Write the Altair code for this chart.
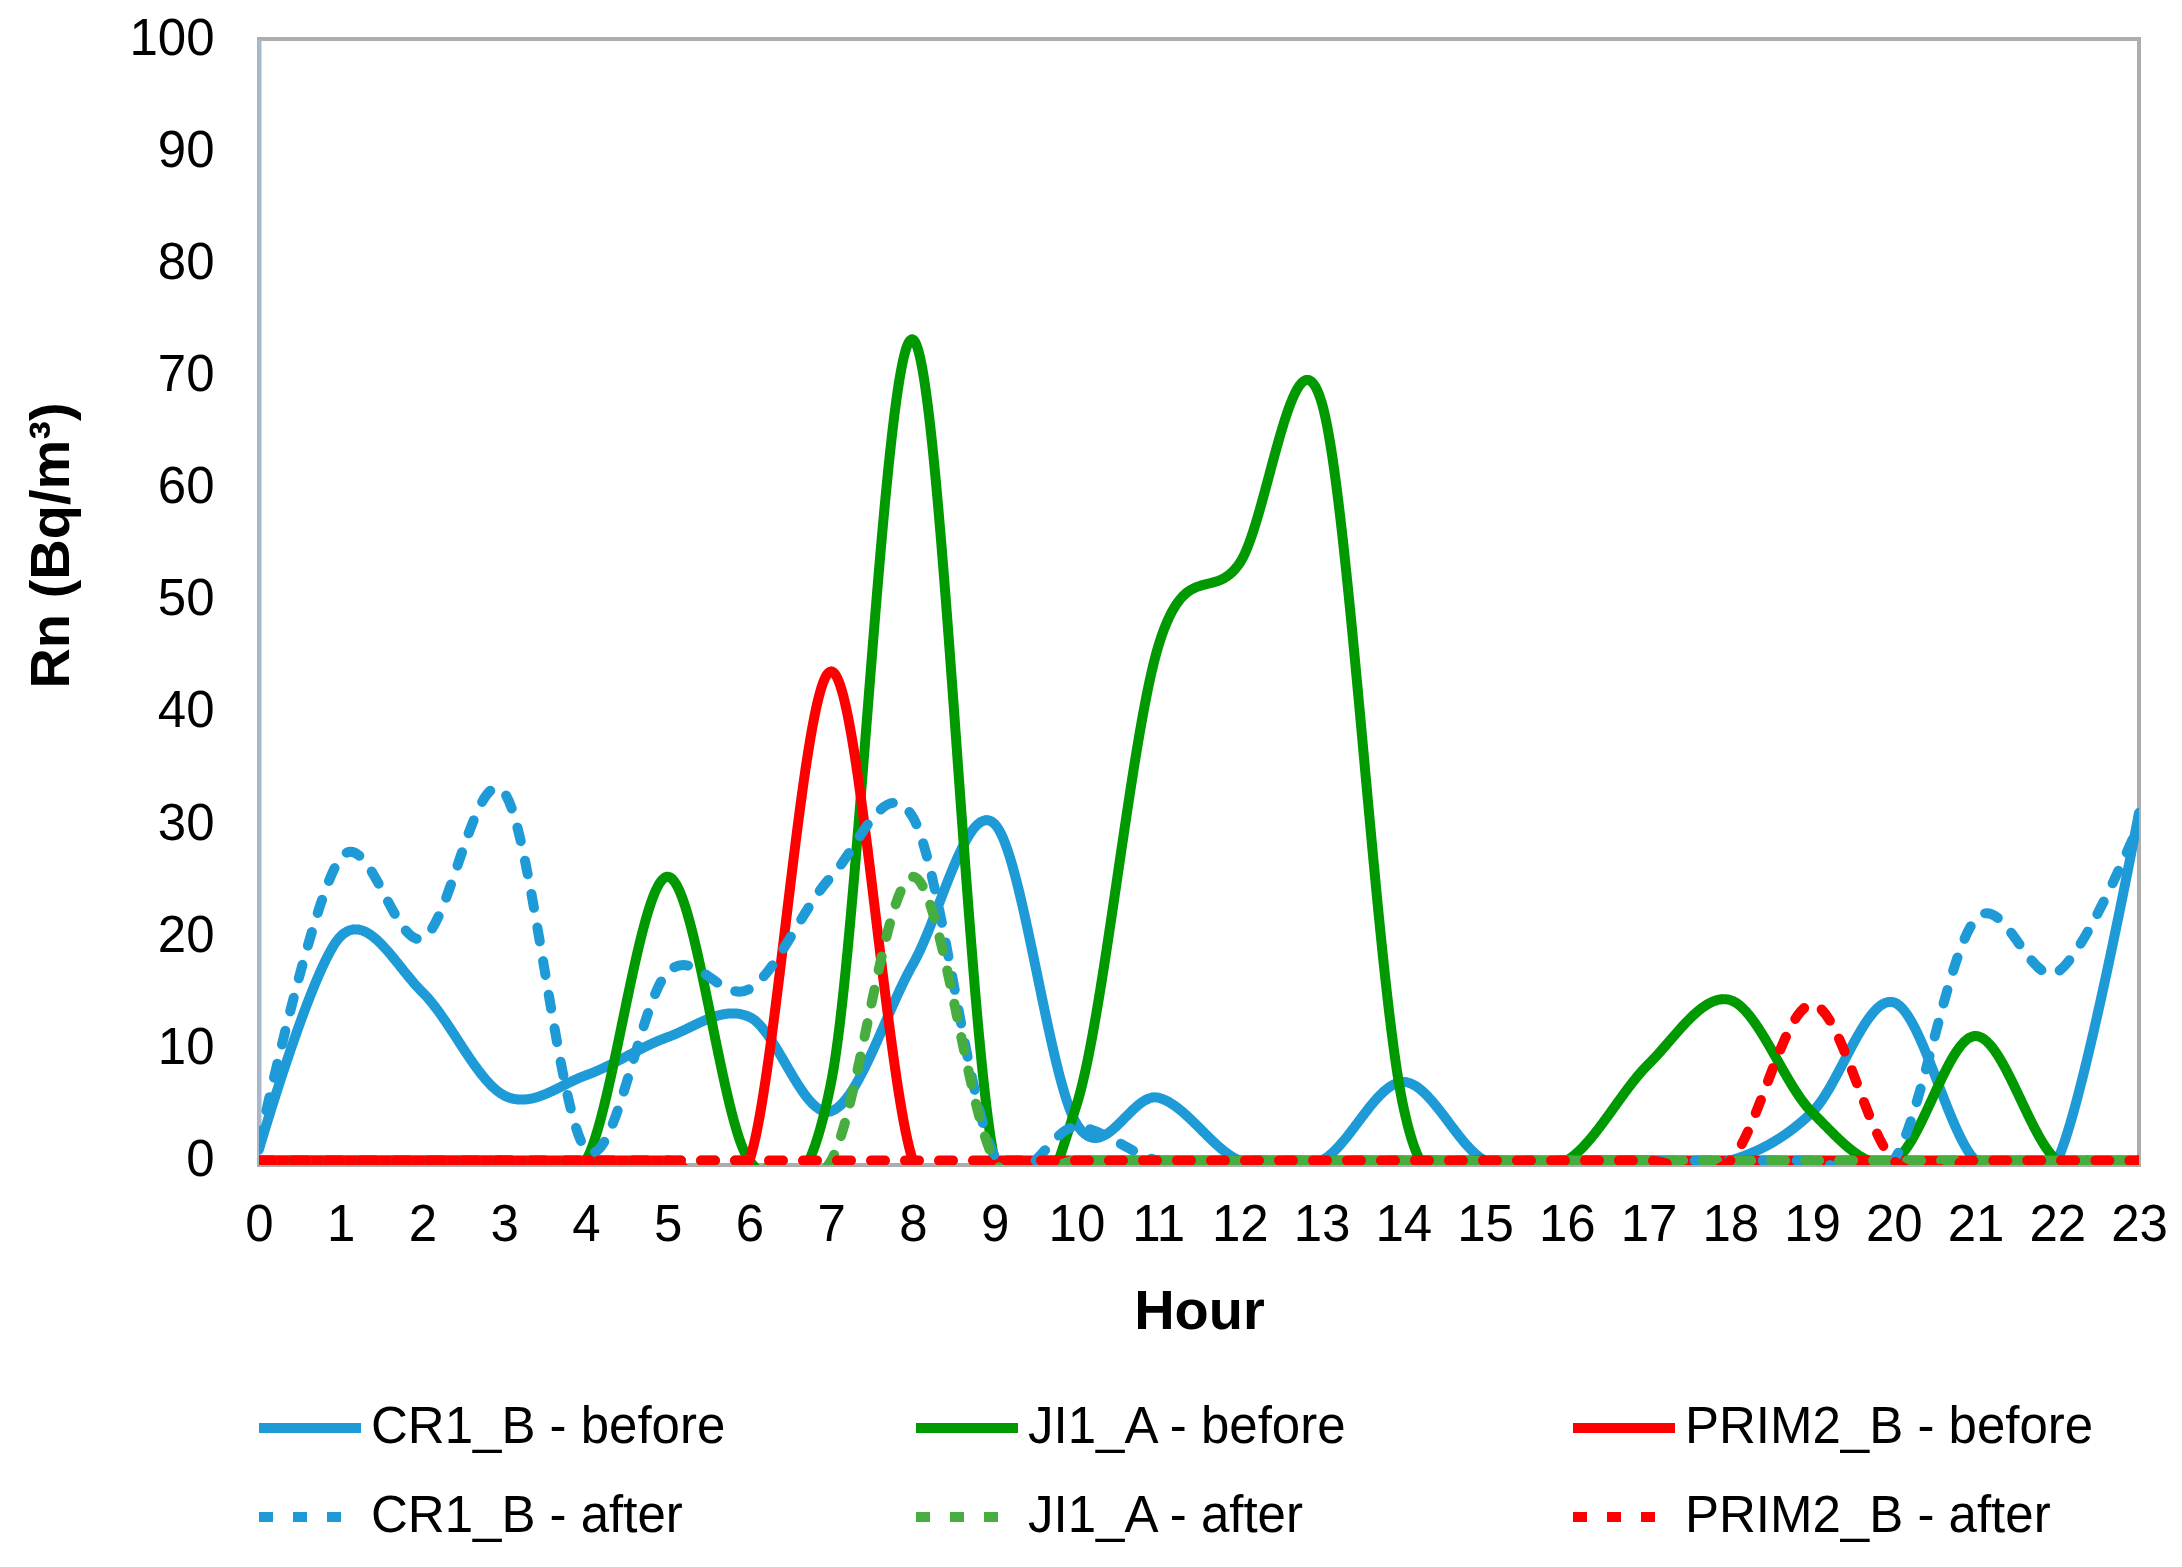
import altair as alt
import pandas as pd

hours = list(range(24))
# drawing order of the series (first drawn at the bottom)
series_names = ["CR1_B - before", "JI1_A - before", "PRIM2_B - before",
                "CR1_B - after", "JI1_A - after", "PRIM2_B - after"]
# legend is filled column by column: two rows (before / after) in three columns
legend_order = ["CR1_B - before", "CR1_B - after", "JI1_A - before",
                "JI1_A - after", "PRIM2_B - before", "PRIM2_B - after"]

cr1_before = [1.0, 20, 15, 5.8, 7.6, 11, 12.8, 4.4, 17.5, 30, 3.3, 5.6, 0, 0, 7, 0, 0, 0, 0, 4.3, 14.1, 0, 0, 31]
ji1_before = [0, 0, 0, 0, 0, 25.3, 0, 7, 73.2, 0, 4.9, 45.8, 53.3, 67.6, 4.8, 0, 0, 8.6, 14.3, 4.3, 0, 11.1, 0, 0]
prim2_before = [0, 0, 0, 0, 0, 0, 0, 43.6, 0, 0, 0, 0, 0, 0, 0, 0, 0, 0, 0, 0, 0, 0, 0, 0]
cr1_after = [1.5, 27, 19.8, 32.8, 1.0, 16.8, 15.3, 25.3, 30.6, 0.4, 3, 0, 0, 0, 0, 0, 0, 0, 0, 0, 0, 21.5, 16.8, 30]
ji1_after = [0, 0, 0, 0, 0, 0, 0, 0, 25.3, 0, 0, 0, 0, 0, 0, 0, 0, 0, 0, 0, 0, 0, 0, 0]
prim2_after = [0, 0, 0, 0, 0, 0, 0, 0, 0, 0, 0, 0, 0, 0, 0, 0, 0, 0, 0, 13.9, 0, 0, 0, 0]

series_values = [cr1_before, ji1_before, prim2_before, cr1_after, ji1_after, prim2_after]
# colours and dash patterns in legend_order
colors = ["#1E9BD7", "#1E9BD7", "#009900", "#46AD3E", "#FF0000", "#FF0000"]
dashes = [[1, 0], [14, 20], [1, 0], [14, 20], [1, 0], [14, 20]]
y_ticks = list(range(0, 101, 10))

rows = []
for name, vals in zip(series_names, series_values):
    for h, v in zip(hours, vals):
        rows.append({"hour": h, "value": v, "series": name})
df = pd.DataFrame(rows)

FONT = "Liberation Sans"

legend = alt.Legend(
    title=None, orient="none", legendX=-5, legendY=1333,
    columns=3, columnPadding=116, rowPadding=8, gridAlign="all",
    symbolType="stroke", symbolSize=10404, symbolStrokeWidth=10,
    labelFont=FONT, labelFontSize=51, labelColor="black", labelOffset=5,
    labelLimit=1000,
)

base = alt.Chart(df).mark_line(
    interpolate="cardinal", tension=0, strokeWidth=10, strokeCap="round", clip=True
).encode(
    x=alt.X("hour:Q",
            scale=alt.Scale(domain=[0, 23], nice=False, zero=False),
            axis=alt.Axis(values=hours, title="Hour", format="d", labelOverlap=False,
                          labelFlush=False, labelBound=False,
                          labelPadding=35, titlePadding=34, domain=False)),
    y=alt.Y("value:Q",
            scale=alt.Scale(domain=[-0.4, 100], nice=False, zero=False),
            axis=alt.Axis(values=y_ticks, title="Rn (Bq/m³)", labelPadding=45,
                          labelOverlap=False, labelFlush=False,
                          domainColor="#A9B9CC", domainWidth=4,
                          titleAngle=270, titleX=-208, titleY=506,
                          titleAlign="center", titleBaseline="middle")),
    color=alt.Color("series:N",
                    scale=alt.Scale(domain=legend_order, range=colors), legend=legend),
    strokeDash=alt.StrokeDash("series:N",
                              scale=alt.Scale(domain=legend_order, range=dashes), legend=legend),
)

layers = [base.transform_filter(alt.datum.series == s) for s in series_names]

chart = alt.layer(*layers).properties(
    width=1880, height=1126,
    padding={"left": 15, "top": 5, "right": 5, "bottom": 5},
    background="white",
).configure_view(
    stroke="#ADADAD", strokeWidth=4
).configure_axis(
    grid=False, ticks=False, tickSize=0,
    labelFont=FONT, labelFontSize=51, labelColor="black",
    titleFont=FONT, titleFontSize=56, titleFontWeight="bold", titleColor="black",
)

chart.save("out.html", embed_options={"renderer": "svg", "actions": False})
